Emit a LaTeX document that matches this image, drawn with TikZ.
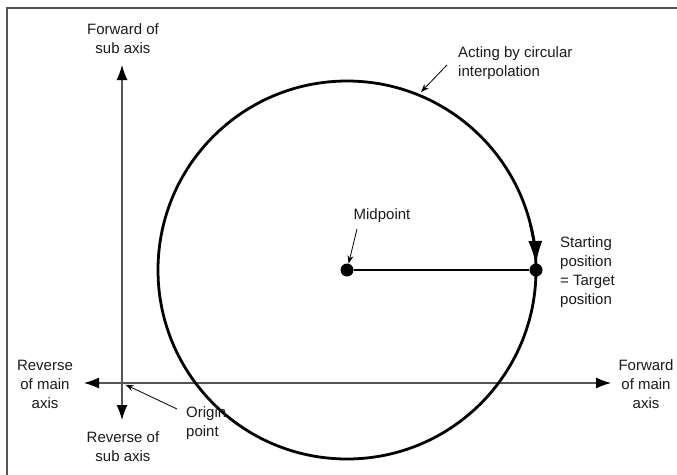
\documentclass[tikz,border=0pt]{standalone}
\usepackage{fontspec}
\setsansfont{Liberation Sans}
\usetikzlibrary{arrows.meta, calc}
\definecolor{AxisGray}{HTML}{555555}
\definecolor{Ink}{HTML}{1A1A1A}

\begin{document}
\begin{tikzpicture}[
        x=1pt, y=-1pt,
        font=\sffamily\fontsize{15}{19}\selectfont,
        axis/.style={{Latex[length=15pt,width=11pt,color=black]}-{Latex[length=15pt,width=11pt,color=black]}, line width=1.1pt, draw=AxisGray},
        ring/.style={line width=2.8pt, draw=black},
        pointer/.style={-{Stealth[length=8pt,width=6pt]}, line width=0.8pt, draw=black},
        dot/.style={circle, fill=black, inner sep=0pt, minimum size=13pt},
        tag/.style={text=Ink, align=center, inner sep=0pt},
        note/.style={text=Ink, align=left, anchor=west, inner sep=0pt}
      ]
        \useasboundingbox (0,0) rectangle (677,474);
        \draw[AxisGray, line width=1.4pt] (7,480) -- (7,8) -- (680,8);
        % axes
        \coordinate (origin) at (122,383);
        \coordinate (subpos) at (122,65);
        \coordinate (subneg) at (122,420);
        \coordinate (mainneg) at (84,383);
        \coordinate (mainpos) at (611,383);
        \draw[axis] (subneg) -- (subpos);
        \draw[axis] (mainneg) -- (mainpos);
        \node[tag] (fwdsub) at (123,39) {Forward of\\sub axis};
        \node[tag] (revsub) at (123,447) {Reverse of\\sub axis};
        \node[tag] (revmain) at (45,384) {Reverse\\of main\\axis};
        \node[tag] (fwdmain) at (646,384) {Forward\\of main\\axis};
        % circle
        \node[dot] (mid) at (347,270) {};
        \node[dot] (start) at (536,270) {};
        \draw[ring] (mid.center) circle[radius=189];
        \draw[ring, -{Latex[length=24pt,width=14pt]}] ($(mid.center)+(-14:189)$) arc[start angle=-14, end angle=-1.5, radius=189];
        \draw[line width=1.1pt] (mid) -- (start);
        % labels
        \node[tag] (midlbl) at (382,216) {Midpoint};
        \node[note] (startlbl) at (560,272) {Starting\\position\\= Target\\position};
        \node[note] (actlbl) at (458,63) {Acting by circular\\interpolation};
        \node[note] (originlbl) at (186,423) {Origin\\point};
        \coordinate (midtail) at (357,229);
        \coordinate (acttail) at (447,65);
        \coordinate (acthead) at (421,92);
        \coordinate (origintail) at (177,409);
        \draw[pointer] (midtail) -- (mid);
        \draw[pointer] (acttail) -- (acthead);
        \draw[pointer, shorten >=4pt] (origintail) -- (origin);
      \end{tikzpicture}
\end{document}
